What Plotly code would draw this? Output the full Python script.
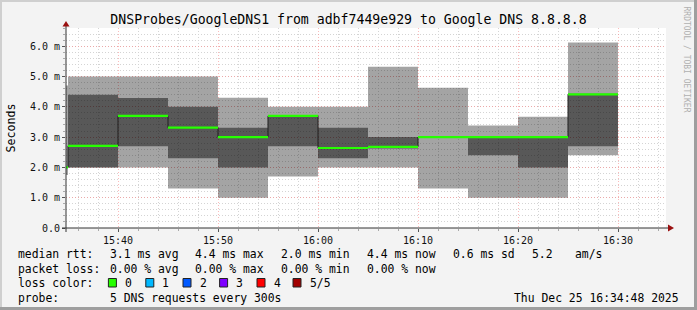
import plotly.graph_objects as go

# ---------------- data ----------------
step_start = [
    "2025-12-25 15:30:00", "2025-12-25 15:35:00", "2025-12-25 15:40:00",
    "2025-12-25 15:45:00", "2025-12-25 15:50:00", "2025-12-25 15:55:00",
    "2025-12-25 16:00:00", "2025-12-25 16:05:00", "2025-12-25 16:10:00",
    "2025-12-25 16:15:00", "2025-12-25 16:20:00", "2025-12-25 16:25:00",
]
step_end = "2025-12-25 16:30:00"

# sorted ping rtt per 5-minute step (milliseconds)
ping_min = [1.75, 2.00, 2.00, 1.30, 1.00, 1.70, 2.00, 2.00, 1.30, 1.00, 1.00, 2.40]
ping_lo  = [2.00, 2.00, 2.70, 2.30, 2.00, 2.70, 2.30, 2.62, 3.00, 2.40, 2.00, 2.70]
median   = [2.00, 2.71, 3.70, 3.31, 3.00, 3.70, 2.64, 2.68, 3.00, 3.00, 3.00, 4.41]
ping_hi  = [2.00, 4.40, 4.29, 4.00, 3.31, 3.70, 3.31, 3.00, 3.00, 3.00, 3.00, 4.41]
ping_max = [4.70, 5.00, 5.00, 5.00, 4.30, 4.00, 4.00, 5.32, 4.63, 3.38, 3.67, 6.12]

y_tick_vals = [0, 1, 2, 3, 4, 5, 6]
y_tick_text = ["0.0", "1.0 m", "2.0 m", "3.0 m", "4.0 m", "5.0 m", "6.0 m"]

x_range = ["2025-12-25 15:34:48", "2025-12-25 16:34:48"]

title_text = "DNSProbes/GoogleDNS1 from adbf7449e929 to Google DNS 8.8.8.8"

rtt_stats = ["3.1 ms avg", "4.4 ms max", "2.0 ms min", "4.4 ms now", "0.6 ms sd", "5.2", "am/s"]
loss_stats = ["0.00 % avg", "0.00 % max", "0.00 % min", "0.00 % now"]
loss_labels = ["0", "1", "2", "3", "4", "5/5"]
loss_colors = ["#26ff00", "#00b8ff", "#0059ff", "#7e00ff", "#ff0000", "#a10000"]
probe_text = "5 DNS requests every 300s"
date_text = "Thu Dec 25 16:34:48 2025"

# ---------------- layout helpers ----------------
W, H = 697, 310
L, T, R, B = 66, 28, 31, 82
PW, PH = W - L - R, H - T - B
FONT = "DejaVu Sans Mono"


def px(x):
    return (x - L) / PW


def py(y):
    return (T + PH - y) / PH


xs = step_start + [step_end]


def ext(v):
    return v + [v[-1]]


fig = go.Figure()

common = dict(mode="lines", hoverinfo="skip", showlegend=False)
fig.add_trace(go.Scatter(x=xs, y=ext(ping_min), line=dict(width=0, shape="hv"), **common))
fig.add_trace(go.Scatter(x=xs, y=ext(ping_max), line=dict(width=0, shape="hv"),
                         fill="tonexty", fillcolor="rgba(0,0,0,0.357)", **common))
fig.add_trace(go.Scatter(x=xs, y=ext(ping_lo), line=dict(width=0, shape="hv"), **common))
fig.add_trace(go.Scatter(x=xs, y=ext(ping_hi), line=dict(width=0, shape="hv"),
                         fill="tonexty", fillcolor="rgba(0,0,0,0.463)", **common))
# thin dark median step line (gives the vertical connectors)
fig.add_trace(go.Scatter(x=xs, y=ext(median), line=dict(width=1, shape="hv", color="#202020"), **common))
# green (0 % loss) horizontal median segments
gx, gy = [], []
for i, m in enumerate(median):
    gx += [xs[i], xs[i + 1], None]
    gy += [m, m, None]
fig.add_trace(go.Scatter(x=gx, y=gy, line=dict(width=2.2, color=loss_colors[0]), **common))

dots = "1px,2px"
major_grid = "rgba(250,140,140,0.6)"
minor_grid = "#d4d4d4"
fig.update_xaxes(
    type="date", range=x_range, tickformat="%H:%M",
    tick0="2025-12-25 15:40:00", dtick=600000,
    showgrid=True, gridcolor=major_grid, griddash=dots, gridwidth=1,
    ticks="outside", ticklen=3, tickcolor="#555",
    tickfont=dict(family=FONT, size=10, color="#111"),
    showline=False, zeroline=False, fixedrange=True,
    minor=dict(tick0="2025-12-25 15:40:00", dtick=120000, showgrid=True,
               gridcolor=minor_grid, griddash=dots, ticks="outside", ticklen=2, tickcolor="#aaa"),
)
fig.update_yaxes(
    range=[0, 6.6], tickmode="array", tickvals=y_tick_vals, ticktext=y_tick_text,
    showgrid=True, gridcolor=major_grid, griddash=dots, gridwidth=1,
    ticks="outside", ticklen=3, tickcolor="#555",
    tickfont=dict(family=FONT, size=10, color="#111"),
    showline=False, zeroline=False, fixedrange=True,
    minor=dict(tickmode="linear", tick0=0, dtick=0.2, showgrid=True,
               gridcolor=minor_grid, griddash=dots, ticks="outside", ticklen=2, tickcolor="#aaa"),
)

shapes = []
# axis lines
shapes.append(dict(type="line", xref="paper", yref="paper", x0=px(L), x1=px(L),
                   y0=py(232), y1=py(24), line=dict(color="#333", width=1)))
shapes.append(dict(type="line", xref="paper", yref="paper", x0=px(62), x1=px(670),
                   y0=py(T + PH), y1=py(T + PH), line=dict(color="#333", width=1)))
# arrows
shapes.append(dict(type="path", xref="paper", yref="paper",
                   path=f"M {px(L - 3.5)} {py(26.5)} L {px(L + 3.5)} {py(26.5)} L {px(L)} {py(21)} Z",
                   fillcolor="#9a1010", line=dict(width=0)))
yb = T + PH
shapes.append(dict(type="path", xref="paper", yref="paper",
                   path=f"M {px(668)} {py(yb - 3.5)} L {px(668)} {py(yb + 3.5)} L {px(674)} {py(yb)} Z",
                   fillcolor="#9a1010", line=dict(width=0)))
# 3d frame
shapes.append(dict(type="rect", xref="paper", yref="paper", x0=px(0), x1=px(W), y0=py(0), y1=py(2),
                   fillcolor="#cfcfcf", line=dict(width=0), layer="below"))
shapes.append(dict(type="rect", xref="paper", yref="paper", x0=px(0), x1=px(2), y0=py(0), y1=py(H),
                   fillcolor="#cfcfcf", line=dict(width=0), layer="below"))
shapes.append(dict(type="rect", xref="paper", yref="paper", x0=px(W - 3), x1=px(W), y0=py(0), y1=py(H),
                   fillcolor="#9e9e9e", line=dict(width=0), layer="below"))
shapes.append(dict(type="rect", xref="paper", yref="paper", x0=px(0), x1=px(W), y0=py(H - 3), y1=py(H),
                   fillcolor="#9e9e9e", line=dict(width=0), layer="below"))

ann = []
LF = dict(family=FONT, size=11.4, color="#000")


def text(x, y, s, anchor="left", font=LF, **kw):
    ann.append(dict(x=px(x), y=py(y), xref="paper", yref="paper", text=s, showarrow=False,
                    xanchor=anchor, yanchor="middle", font=font, **kw))


rows_y = [254, 268.5, 283, 297.5]
rtt_x = [107.6, 193.3, 279.1, 365.3, 451.1, 530.2, 573.3]
text(16.4, rows_y[0], "median rtt:")
for xx, s in zip(rtt_x, rtt_stats):
    text(xx, rows_y[0], s)
text(16.4, rows_y[1], "packet loss:")
for xx, s in zip(rtt_x, loss_stats):
    text(xx, rows_y[1], s)
text(16.4, rows_y[2], "loss color:")
box_x = [108.4, 145.8, 183.0, 219.6, 257.0, 293.0]
for bx, lab, col in zip(box_x, loss_labels, loss_colors):
    shapes.append(dict(type="rect", xref="paper", yref="paper", x0=px(bx), x1=px(bx + 8),
                       y0=py(rows_y[2] - 4.5), y1=py(rows_y[2] + 4), fillcolor=col,
                       line=dict(color="#222", width=1)))
    text(bx + 14.5, rows_y[2], lab)
text(16.4, rows_y[3], "probe:")
text(107.6, rows_y[3], probe_text)
text(680.5, rows_y[3], date_text, anchor="right")

# y-axis unit label
text(10.5, 128, "Seconds", anchor="center", font=dict(family=FONT, size=11.6, color="#000"), textangle=-90)
# watermark
text(686.5, 59, "RRDTOOL / TOBI OETIKER", anchor="center",
     font=dict(family=FONT, size=8, color="#b0b0b0"), textangle=90)

fig.update_layout(
    width=W, height=H, autosize=False,
    margin=dict(l=L, r=R, t=T, b=B, pad=0),
    paper_bgcolor="#f3f3f3", plot_bgcolor="#ffffff",
    title=dict(text=title_text, x=0.5, xref="container", xanchor="center",
               y=1 - 19 / H, yref="container", yanchor="middle",
               font=dict(family=FONT, size=13.2, color="#000")),
    shapes=shapes, annotations=ann, showlegend=False,
)

fig.write_html("out.html", config={"displayModeBar": False})
